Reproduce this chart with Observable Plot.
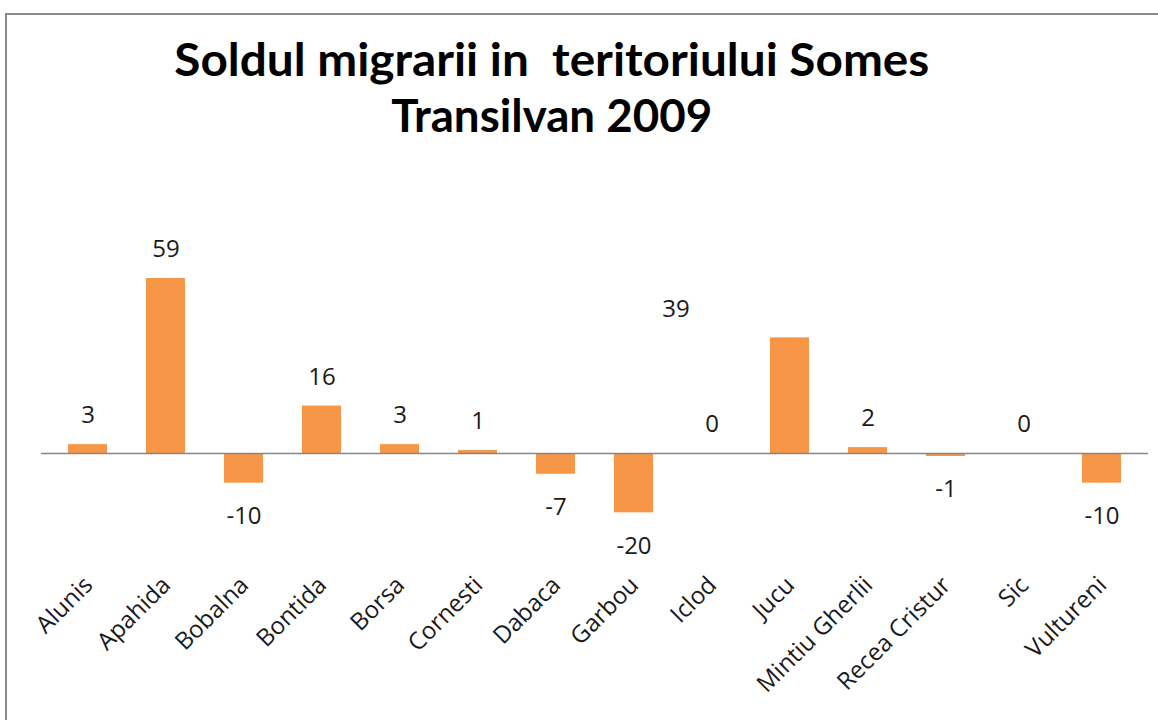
<!DOCTYPE html>
<html>
<head>
<meta charset="utf-8">
<script src="https://cdn.jsdelivr.net/npm/d3@7"></script>
<script src="https://cdn.jsdelivr.net/npm/@observablehq/plot@0.6"></script>
<style>
  html, body { margin: 0; padding: 0; background: #fff; overflow: hidden; }
  #page { position: relative; width: 1158px; height: 720px; overflow: hidden; }
  #frame { position: absolute; left: 5px; top: 13px; width: 1300px; height: 900px; border: 2px solid #8a8a8a; }
  .tline { position: absolute; left: 0; width: 1104px; text-align: center; font-family: Lato, sans-serif; font-weight: bold; font-size: 46px; line-height: 46px; color: #000; white-space: pre; }
  .tline span { display: inline-block; transform-origin: center; }
  #chart { position: absolute; left: 0; top: 150px; }
  #chart text { font-family: "Open Sans", sans-serif; }
</style>
</head>
<body>
<div id="page">
  <div id="frame"></div>
  <div class="tline" id="t1" style="top:36px"><span>Soldul migrarii in  teritoriului Somes</span></div>
  <div class="tline" id="t2" style="top:92px"><span>Transilvan 2009</span></div>
  <div id="chart"></div>
</div>
<script>
const categories = ["Alunis", "Apahida", "Bobalna", "Bontida", "Borsa", "Cornesti", "Dabaca", "Garbou", "Iclod", "Jucu", "Mintiu Gherlii", "Recea Cristur", "Sic", "Vultureni"];
const values = [3, 59, -10, 16, 3, 1, -7, -20, 0, 39, 2, -1, 0, -10];

// fit title lines to reference widths
[["t1", 755], ["t2", 321]].forEach(([id, w]) => {
  const s = document.querySelector("#" + id + " span");
  const cw = s.getBoundingClientRect().width;
  s.style.transform = `scaleX(${w / cw})`;
});

const data = categories.map((c, i) => ({ name: c, value: values[i] }));
const font = "Open Sans, sans-serif";

const chart = Plot.plot({
  width: 1158,
  height: 570,
  marginLeft: 41,
  marginRight: 10,
  marginTop: 95.4,
  marginBottom: 178,
  style: { fontFamily: font, background: "transparent" },
  x: { domain: categories, paddingInner: 0.5, paddingOuter: 0.33, axis: null },
  y: { domain: [-30, 70], axis: null },
  marks: [
    Plot.barY(data, { x: "name", y: "value", fill: "#F79646" }),
    Plot.ruleY([0], { stroke: "#868686", strokeWidth: 1.5 }),
    Plot.text(data.filter(d => d.value >= 0 && d.name !== "Jucu"), { x: "name", y: "value", text: d => String(d.value), dy: -29, fontSize: 24, fontFamily: font, fill: "#1a1a1a" }),
    Plot.text(data.filter(d => d.name === "Jucu"), { x: "name", y: "value", text: d => String(d.value), dy: -29, dx: -114, fontSize: 24, fontFamily: font, fill: "#1a1a1a" }),
    Plot.text(data.filter(d => d.value < 0), { x: "name", y: "value", text: d => String(d.value), dy: 33, fontSize: 24, fontFamily: font, fill: "#1a1a1a" }),
    Plot.text(categories, { x: d => d, frameAnchor: "bottom", dy: 44, dx: 6, rotate: -45, textAnchor: "end", fontSize: 24, fontFamily: font, fill: "#1a1a1a" })
  ]
});
document.getElementById("chart").appendChild(chart);
</script>
</body>
</html>
